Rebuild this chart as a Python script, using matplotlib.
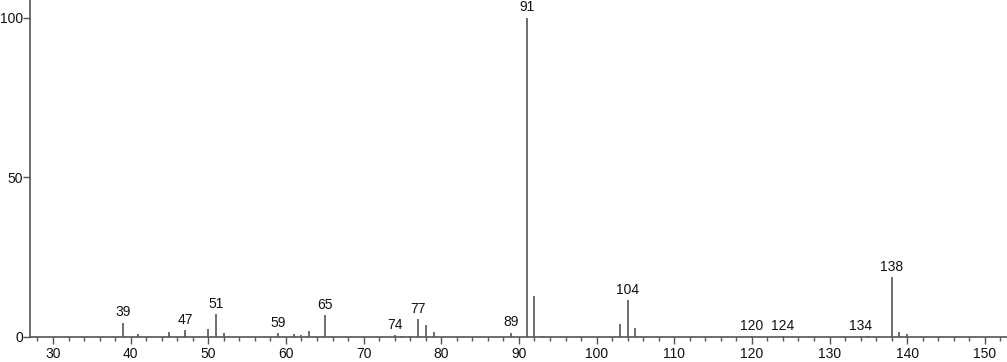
import matplotlib
matplotlib.use("Agg")
import matplotlib.pyplot as plt
from matplotlib.ticker import MultipleLocator

plt.rcParams['font.family'] = ['Liberation Sans', 'DejaVu Sans']
fs = 10

mz = [39, 41, 45, 47, 50, 51, 52, 59, 61, 62, 63, 65, 74, 75, 76, 77, 78, 79,
      89, 91, 92, 93, 103, 104, 105, 120, 124, 134, 135, 138, 139, 140]
intensity = [4.5, 0.8, 1.7, 2.2, 2.4, 7.1, 1.4, 1.1, 0.8, 0.5, 1.9, 6.8, 0.6, 0.3, 0.3,
             5.5, 3.7, 1.5, 1.3, 100, 12.8, 0.3, 4.2, 11.5, 2.9, 0.2, 0.3, 0.3, 0.3,
             18.8, 1.6, 1.0]
labeled = [39, 47, 51, 59, 65, 74, 77, 89, 91, 104, 120, 124, 134, 138]

x_ticks = [30, 40, 50, 60, 70, 80, 90, 100, 110, 120, 130, 140, 150]
y_ticks = [0, 50, 100]

col = '#555555'
fig = plt.figure(figsize=(10.07, 3.62), dpi=100)
ax = fig.add_axes([30/1007, 25/362, 977/1007, 337/362])

ax.vlines(mz, 0, intensity, color=col, linewidth=1.2)
for m, v in zip(mz, intensity):
    if m in labeled:
        ax.annotate(str(m), (m, v), xytext=(0, 2.5), textcoords='offset points',
                    ha='center', va='bottom', fontsize=fs, color='#111111')

ax.set_xlim(27.04, 152.85)
ax.set_ylim(0, 105.6)
ax.set_xticks(x_ticks)
ax.set_yticks(y_ticks)
ax.xaxis.set_minor_locator(MultipleLocator(2))
ax.tick_params(axis='x', which='major', length=5, width=1, color=col,
               labelsize=fs, labelcolor='#111111', pad=2.5)
ax.tick_params(axis='y', which='major', length=5, width=1, color=col,
               labelsize=fs, labelcolor='#111111', pad=0.2)
ax.tick_params(axis='x', which='minor', length=3, width=1, color=col)
for s in ['top', 'right']:
    ax.spines[s].set_visible(False)
for s in ['left', 'bottom']:
    ax.spines[s].set_color(col)
    ax.spines[s].set_linewidth(1.2)
ax.patch.set_visible(False)

fig.savefig('out.png', dpi=100)
